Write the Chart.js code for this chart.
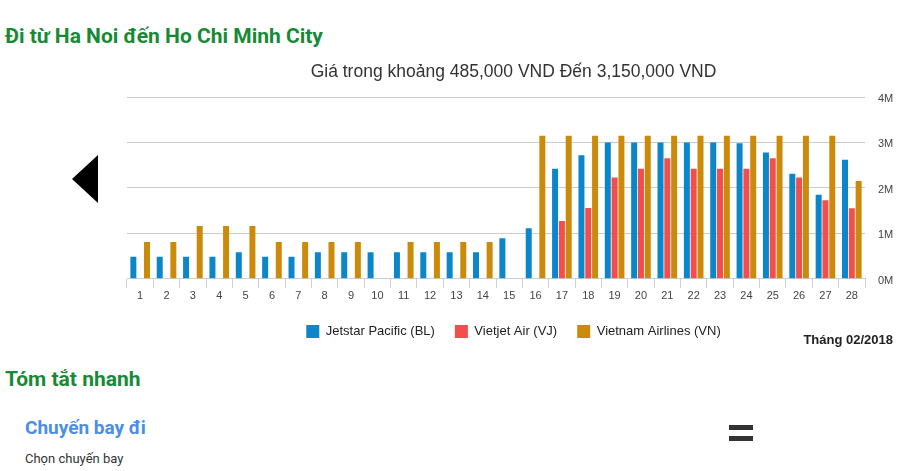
<!DOCTYPE html>
<html>
<head>
<meta charset="utf-8">
<script src="https://cdn.jsdelivr.net/npm/chart.js@4"></script>
<style>
  html, body { margin: 0; padding: 0; background: #fff; width: 900px; height: 471px; overflow: hidden; position: relative; font-family: "Liberation Sans", Arial, sans-serif; }
  .h { position: absolute; font-family: "Liberation Sans Narrow", "Roboto", sans-serif; font-weight: bold; color: #178a36; font-size: 21px; line-height: 1; white-space: nowrap; }
  #chartWrap { position: absolute; left: 0; top: 50px; width: 900px; height: 298px; }
  #arrow { position: absolute; left: 72px; top: 155px; width: 0; height: 0; border-top: 24px solid transparent; border-bottom: 24px solid transparent; border-right: 26px solid #000; }
  .eq { position: absolute; left: 729px; width: 24px; height: 5px; background: #333; }
  #month { position: absolute; right: 7px; top: 332px; font-family: "Liberation Sans", Arial, sans-serif; font-weight: bold; font-size: 13px; color: #222; }
</style>
</head>
<body>
<div class="h" style="left:5px; top:26px;">Đi từ Ha Noi đến Ho Chi Minh City</div>
<div id="chartWrap"><canvas id="c" width="900" height="298"></canvas></div>
<div id="arrow"></div>
<div id="month">Tháng 02/2018</div>
<div class="h" style="left:5px; top:369px;">Tóm tắt nhanh</div>
<div class="h" style="left:25px; top:418px; font-size:19px; color:#4a8ee6;">Chuyến bay đi</div>
<div style="position:absolute; left:25px; top:451px; font-family:'Liberation Sans Narrow','Roboto',sans-serif; font-size:13px; color:#333;">Chọn chuyến bay</div>
<div class="eq" style="top:425px;"></div>
<div class="eq" style="top:436px;"></div>
<script>
const days = ["1","2","3","4","5","6","7","8","9","10","11","12","13","14","15","16","17","18","19","20","21","22","23","24","25","26","27","28"];
const jetstar = [485000,485000,485000,485000,585000,485000,485000,585000,585000,585000,585000,585000,585000,585000,890000,1110000,2420000,2720000,3000000,3000000,3000000,3000000,3000000,2980000,2780000,2310000,1850000,2620000];
const vietjet = [null,null,null,null,null,null,null,null,null,null,null,null,null,null,null,null,1270000,1560000,2230000,2420000,2650000,2420000,2420000,2420000,2650000,2230000,1730000,1550000];
const vietnamAirlines = [810000,810000,1160000,1160000,1160000,810000,810000,810000,810000,null,810000,810000,810000,810000,null,3150000,3150000,3150000,3150000,3150000,3150000,3150000,3150000,3150000,3150000,3150000,3150000,2150000];
const seriesNames = ["Jetstar Pacific (BL)", "Vietjet Air (VJ)", "Vietnam Airlines (VN)"];
const yTicks = [0, 1000000, 2000000, 3000000, 4000000];
const titleText = "Giá trong khoảng 485,000 VND Đến 3,150,000 VND";

const colors = ["#0b86c8", "#f24e4e", "#cc8a0b"];

new Chart(document.getElementById("c"), {
  type: "bar",
  data: {
    labels: days,
    datasets: [
      { label: seriesNames[0], data: jetstar, backgroundColor: colors[0] },
      { label: seriesNames[1], data: vietjet, backgroundColor: colors[1] },
      { label: seriesNames[2], data: vietnamAirlines, backgroundColor: colors[2] }
    ]
  },
  options: {
    responsive: false,
    animation: false,
    categoryPercentage: 0.775,
    barPercentage: 0.88,
    layout: { padding: { left: 127, right: 0, top: 0, bottom: 0 } },
    plugins: {
      title: {
        display: true,
        text: titleText,
        color: "#333",
        font: { family: "'Liberation Sans', Arial, sans-serif", size: 17.5, weight: "normal" },
        padding: { top: 12, bottom: 14 }
      },
      legend: {
        position: "bottom",
        labels: {
          boxWidth: 13,
          boxHeight: 13,
          padding: 20,
          color: "#222",
          font: { family: "'Liberation Sans', Arial, sans-serif", size: 13 }
        }
      },
      tooltip: { enabled: false }
    },
    scales: {
      x: {
        grid: { drawOnChartArea: false, tickLength: 9, color: "#c6d0da", offset: true },
        border: { color: "#c6d0da" },
        ticks: { color: "#444", padding: 2, font: { family: "'Liberation Sans', Arial, sans-serif", size: 11 } }
      },
      y: {
        position: "right",
        min: 0,
        max: 4000000,
        afterBuildTicks: (s) => { s.ticks = yTicks.map(v => ({ value: v })); },
        afterFit: (s) => { s.width = 35; },
        grid: { color: "#cccccc", drawTicks: false },
        border: { display: false },
        ticks: {
          color: "#444",
          padding: 13,
          labelOffset: 2,
          font: { family: "'Liberation Sans', Arial, sans-serif", size: 11 },
          callback: (v) => (v / 1000000) + "M"
        }
      }
    }
  }
});
</script>
</body>
</html>
